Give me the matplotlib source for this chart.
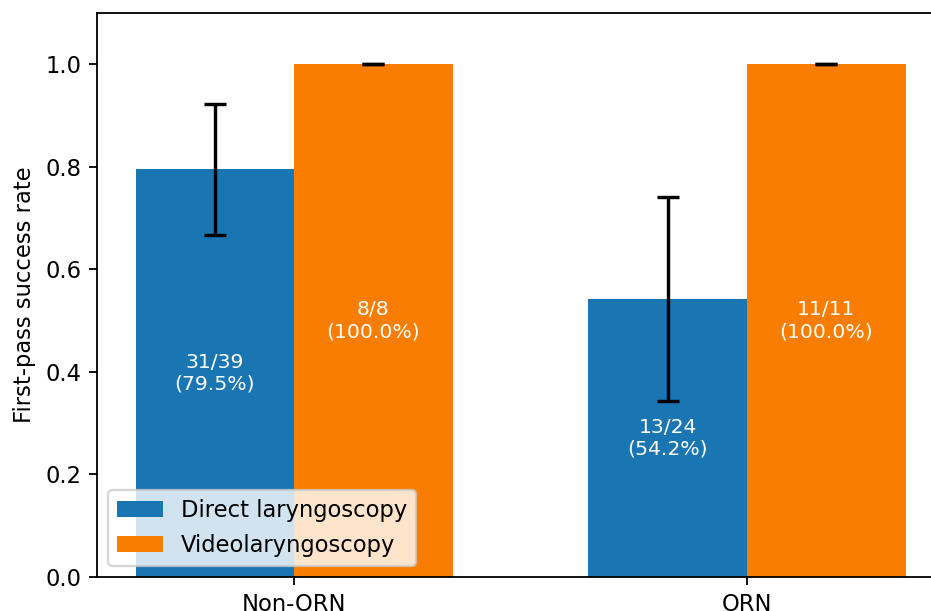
import numpy as np
import matplotlib
matplotlib.use("Agg")
import matplotlib.pyplot as plt

# --- data -------------------------------------------------------------
groups = ["Non-ORN", "ORN"]
dl_rate = [31 / 39, 13 / 24]
vl_rate = [8 / 8, 11 / 11]
dl_err = [0.127, 0.199]
vl_err = [0.0, 0.0]
dl_labels = ["31/39\n(79.5%)", "13/24\n(54.2%)"]
vl_labels = ["8/8\n(100.0%)", "11/11\n(100.0%)"]

BLUE = "#1a76b3"
ORANGE = "#f97d00"
DPI = 163
W, H = 931, 611

fig = plt.figure(figsize=(W / DPI, H / DPI), dpi=DPI)
# axes runs past the right/bottom edge like the cropped original
ax = fig.add_axes([97 / W, (H - 577) / H, (944 - 97) / W, (577 - 13) / H])

x = np.arange(len(groups))
w = 0.35
ekw = {"elinewidth": 1.5, "capthick": 1.5}
b1 = ax.bar(x - w / 2, dl_rate, w, yerr=dl_err, capsize=5, color=BLUE,
            label="Direct laryngoscopy", error_kw=ekw)
b2 = ax.bar(x + w / 2, vl_rate, w, yerr=vl_err, capsize=5, color=ORANGE,
            label="Videolaryngoscopy", error_kw=ekw)

for bars, labels in ((b1, dl_labels), (b2, vl_labels)):
    for rect, lab in zip(bars, labels):
        ax.text(rect.get_x() + rect.get_width() / 2, rect.get_height() / 2, lab,
                ha="center", va="center", color="white", fontsize=9)

ax.set_ylim(0, 1.1)
ax.set_xticks(x)
ax.set_xticklabels(groups)
ax.set_ylabel("First-pass success rate")
ax.legend(loc="lower left", fontsize=10)

fig.savefig("out.png", dpi=DPI, facecolor="white")
